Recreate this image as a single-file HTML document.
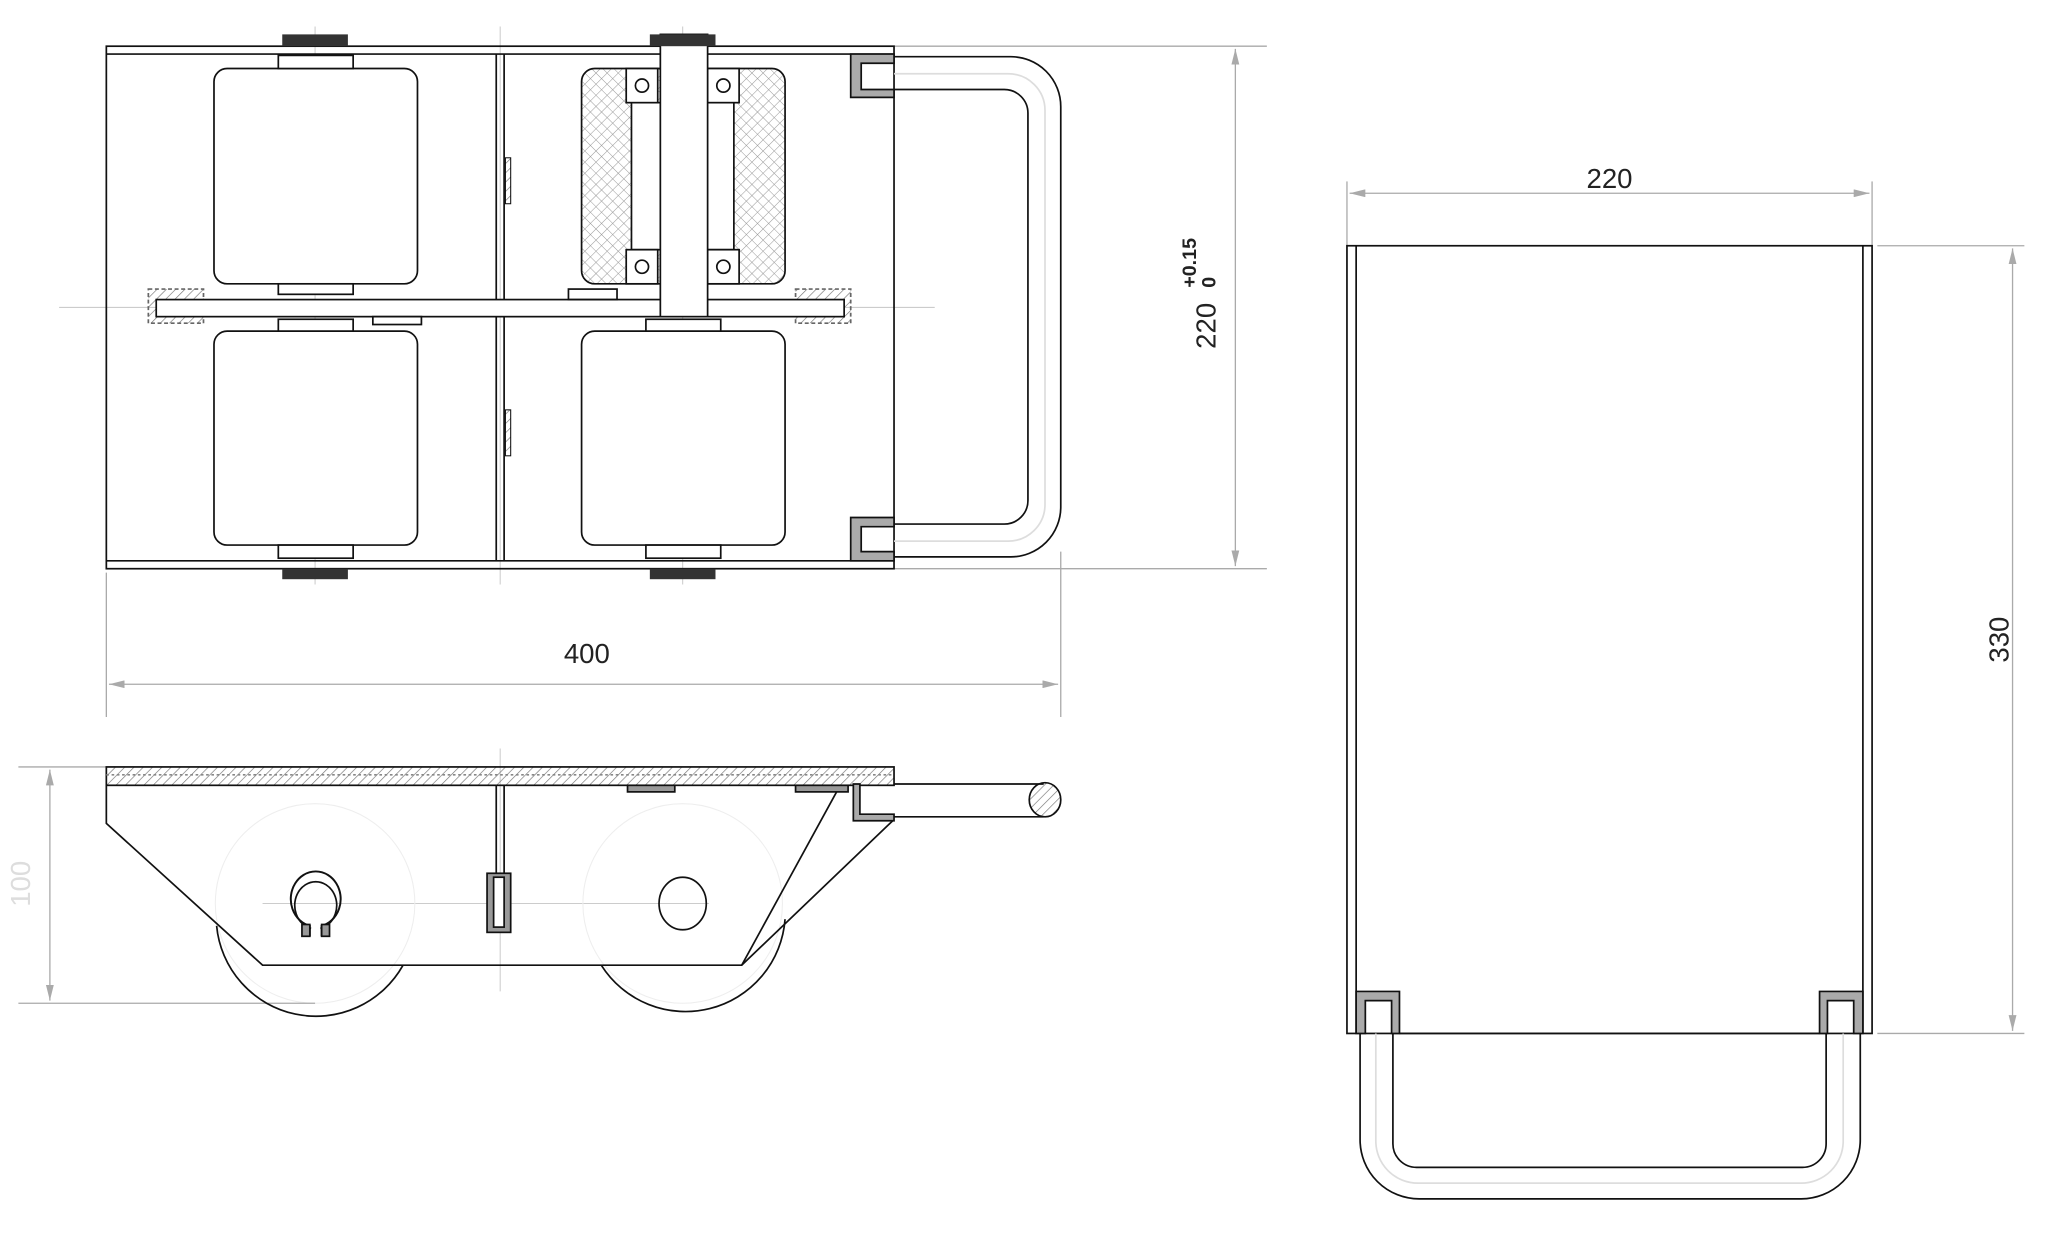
<!DOCTYPE html>
<html><head><meta charset="utf-8"><style>html,body{margin:0;padding:0;background:#fff}svg{display:block}</style></head>
<body>
<svg width="2048" height="1249" viewBox="0 0 1560 951" xmlns="http://www.w3.org/2000/svg" font-family="Liberation Sans, sans-serif">
<defs>
<pattern id="h" width="5" height="5" patternUnits="userSpaceOnUse" patternTransform="rotate(45)"><line x1="0" y1="0" x2="0" y2="5" stroke="#777" stroke-width="1"/></pattern>
<pattern id="x" width="6" height="6" patternUnits="userSpaceOnUse" patternTransform="rotate(45)"><path d="M0 0V6M0 0H6" stroke="#999" stroke-width="0.8"/></pattern>
<marker id="a" markerWidth="12" markerHeight="6" refX="12" refY="3" orient="auto-start-reverse" markerUnits="userSpaceOnUse"><path d="M0 0L12 3L0 6z" fill="#aaa"/></marker>
</defs>
<g fill="none" stroke="#ccc" stroke-width="0.8">
<line x1="45" y1="234" x2="712" y2="234"/><line x1="240" y1="20" x2="240" y2="445"/><line x1="520" y1="20" x2="520" y2="445"/><line x1="381" y1="20" x2="381" y2="445"/>
<line x1="200" y1="688" x2="540" y2="688"/><line x1="381" y1="570" x2="381" y2="755"/>
<circle cx="240" cy="688" r="76" stroke="#eee"/><circle cx="520" cy="688" r="76" stroke="#eee"/>
</g>
<g stroke="#aaa" stroke-width="1" fill="none">
<line x1="681" y1="35" x2="965" y2="35"/><line x1="681" y1="433" x2="965" y2="433"/>
<line x1="941" y1="37" x2="941" y2="431" marker-start="url(#a)" marker-end="url(#a)"/>
<line x1="81" y1="436" x2="81" y2="546"/><line x1="808" y1="420" x2="808" y2="546"/>
<line x1="83" y1="521" x2="806" y2="521" marker-start="url(#a)" marker-end="url(#a)"/>
<line x1="14" y1="584" x2="81" y2="584"/><line x1="14" y1="764" x2="240" y2="764"/>
<line x1="38" y1="586" x2="38" y2="762" marker-start="url(#a)" marker-end="url(#a)"/>
<line x1="1026" y1="138" x2="1026" y2="187"/><line x1="1426" y1="138" x2="1426" y2="187"/>
<line x1="1028" y1="147" x2="1424" y2="147" marker-start="url(#a)" marker-end="url(#a)"/>
<line x1="1430" y1="187" x2="1542" y2="187"/><line x1="1430" y1="787" x2="1542" y2="787"/>
<line x1="1533" y1="189" x2="1533" y2="785" marker-start="url(#a)" marker-end="url(#a)"/>
</g>
<g fill="#222" font-size="21">
<text x="447" y="505" text-anchor="middle">400</text>
<text x="1226" y="143" text-anchor="middle">220</text>
<text transform="translate(1530,487) rotate(-90)" text-anchor="middle">330</text>
<text transform="translate(926,248) rotate(-90)" text-anchor="middle">220</text>
<text transform="translate(911,219) rotate(-90)" font-size="15" font-weight="bold">+0.15</text>
<text transform="translate(926,219) rotate(-90)" font-size="15" font-weight="bold">0</text>
<text transform="translate(23,673) rotate(-90)" text-anchor="middle" fill="#ddd">100</text>
</g>
<!-- TOP VIEW -->
<g stroke="#111" stroke-width="1.3" fill="none">
<rect x="81" y="35" width="600" height="398"/>
<line x1="81" y1="41" x2="681" y2="41"/><line x1="81" y1="427" x2="681" y2="427"/>
<line x1="378" y1="41" x2="378" y2="427"/><line x1="384" y1="41" x2="384" y2="427"/>
<rect x="163" y="52" width="155" height="164" rx="10" fill="#fff"/>
<rect x="163" y="252" width="155" height="163" rx="10" fill="#fff"/>
<rect x="443" y="252" width="155" height="163" rx="10" fill="#fff"/>
<rect x="443" y="52" width="155" height="164" rx="10" fill="url(#x)"/>
<rect x="481" y="78" width="78" height="112" fill="#fff"/>
<rect x="477" y="52" width="24" height="26" fill="#fff"/><rect x="539" y="52" width="24" height="26" fill="#fff"/>
<rect x="477" y="190" width="24" height="26" fill="#fff"/><rect x="539" y="190" width="24" height="26" fill="#fff"/>
<circle cx="489" cy="65" r="5"/><circle cx="551" cy="65" r="5"/><circle cx="489" cy="203" r="5"/><circle cx="551" cy="203" r="5"/>
<rect x="212" y="42" width="57" height="10" fill="#fff"/><rect x="212" y="216" width="57" height="8" fill="#fff"/>
<rect x="212" y="243" width="57" height="9" fill="#fff"/><rect x="212" y="415" width="57" height="10" fill="#fff"/>
<rect x="492" y="243" width="57" height="9" fill="#fff"/><rect x="492" y="415" width="57" height="10" fill="#fff"/>
<rect x="113" y="220" width="42" height="26" fill="url(#h)" stroke="#666" stroke-dasharray="3 2"/>
<rect x="606" y="220" width="42" height="26" fill="url(#h)" stroke="#666" stroke-dasharray="3 2"/>
<rect x="119" y="228" width="524" height="13" fill="#fff"/>
<rect x="433" y="220" width="37" height="8"/><rect x="284" y="241" width="37" height="6"/>
<rect x="503" y="26" width="36" height="215" fill="#fff"/>
<rect x="385" y="120" width="4" height="35" fill="url(#h)" stroke-width="0.8"/><rect x="385" y="312" width="4" height="35" fill="url(#h)" stroke-width="0.8"/>
<path d="M681,43 H770 A38,38 0 0 1 808,81 V386 A38,38 0 0 1 770,424 H681"/>
<path d="M681,68 H765 A18,18 0 0 1 783,86 V381 A18,18 0 0 1 765,399 H681"/>
<path d="M681,56 H768 A28,28 0 0 1 796,84 V384 A28,28 0 0 1 768,412 H681" stroke="#ddd"/>
<path d="M681,41 H648 V74 H681 V68 H656 V48 H681 Z" fill="#aaa"/>
<path d="M681,394 H648 V427 H681 V420 H656 V401 H681 Z" fill="#aaa"/>
</g>
<g fill="#333"><rect x="215" y="26" width="50" height="9"/><rect x="215" y="433" width="50" height="8"/><rect x="495" y="26" width="50" height="9"/><rect x="495" y="433" width="50" height="8"/></g>
<!-- SIDE VIEW -->
<g stroke="#111" stroke-width="1.3" fill="none">
<path d="M165,705 A76,76 0 0 0 307,735"/><path d="M458,735 A76,76 0 0 0 598,700"/>
<rect x="81" y="584" width="600" height="14" fill="url(#h)"/>
<line x1="81" y1="590" x2="681" y2="590" stroke="#888" stroke-dasharray="2 2"/>
<path d="M81,598 V627 L200,735 H565 L681,624"/><line x1="565" y1="735" x2="640" y2="598"/>
<line x1="378" y1="598" x2="378" y2="665"/><line x1="384" y1="598" x2="384" y2="665"/>
<rect x="371" y="665" width="18" height="45" fill="#999"/><rect x="376" y="668" width="8" height="38" fill="#fff"/>
<path d="M236,713 V705 A19,21 0 1 1 245,705 V713" stroke-width="1.5"/>
<path d="M237,707 A16,18 0 1 1 244,707"/>
<rect x="230" y="704" width="6" height="9" fill="#999"/><rect x="245" y="704" width="6" height="9" fill="#999"/>
<ellipse cx="520" cy="688" rx="18" ry="20"/>
<rect x="478" y="598" width="36" height="5" fill="#999"/><rect x="606" y="598" width="40" height="5" fill="#999"/>
<path d="M681,597 H795 M681,622 H795"/>
<ellipse cx="796" cy="609" rx="12" ry="13" fill="url(#h)"/>
<path d="M650,597 V625 H681 V620 H655 V597 Z" fill="#aaa"/>
</g>
<!-- RIGHT VIEW -->
<g stroke="#111" stroke-width="1.3" fill="none">
<rect x="1026" y="187" width="400" height="600"/>
<line x1="1033" y1="187" x2="1033" y2="787"/><line x1="1419" y1="187" x2="1419" y2="787"/>
<path d="M1036,787 V868 A45,45 0 0 0 1081,913 H1372 A45,45 0 0 0 1417,868 V787"/>
<path d="M1061,787 V871 A18,18 0 0 0 1079,889 H1373 A18,18 0 0 0 1391,871 V787"/>
<path d="M1048,787 V869 A32,32 0 0 0 1080,901 H1372 A32,32 0 0 0 1404,869 V787" stroke="#ddd"/>
<path d="M1033,787 V755 H1066 V787 H1060 V762 H1040 V787 Z" fill="#aaa"/>
<path d="M1419,787 V755 H1386 V787 H1392 V762 H1412 V787 Z" fill="#aaa"/>
<line x1="1066" y1="787" x2="1386" y2="787"/>
</g>
</svg>
</body></html>
